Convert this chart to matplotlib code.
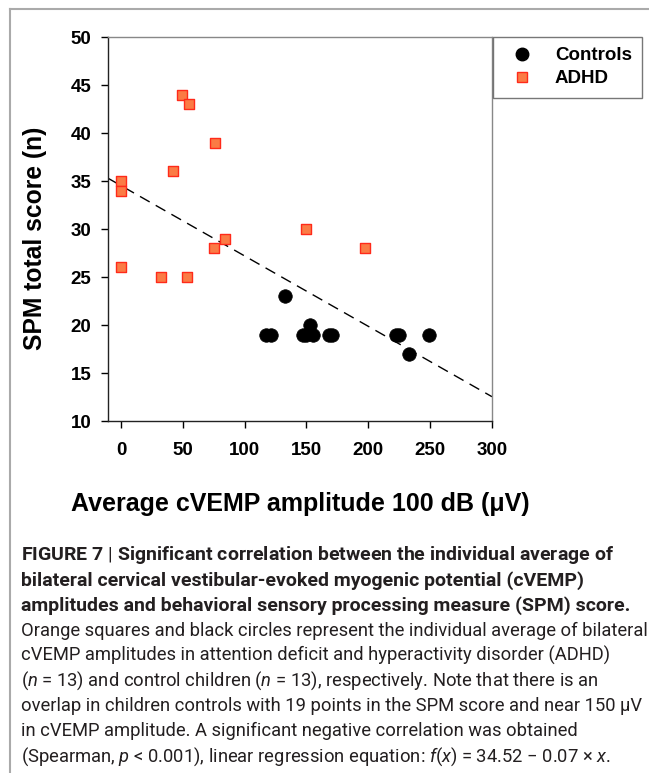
import matplotlib
matplotlib.use("Agg")
import matplotlib.pyplot as plt
from matplotlib.lines import Line2D
import numpy as np

# data
controls_x = [117, 121, 133, 147, 150, 153, 155, 168, 171, 222, 225, 233, 249]
controls_y = [19, 19, 23, 19, 19, 20, 19, 19, 19, 19, 19, 17, 19]
adhd_x = [0, 0, 0, 32, 42, 49, 53, 55, 75, 76, 84, 150, 197]
adhd_y = [35, 34, 26, 25, 36, 44, 25, 43, 28, 39, 29, 30, 28]

# regression line f(x) = 34.52 - 0.07 x (slope as drawn)
fit_a = 34.52
fit_b = -0.0733
fit_range = [-10, 300]

xticks = [0, 50, 100, 150, 200, 250, 300]
yticks = [10, 15, 20, 25, 30, 35, 40, 45, 50]

caption = [
    ("FIGURE 7 $\\mathrm{|}$ Significant correlation between the individual average of", "bold"),
    ("bilateral cervical vestibular-evoked myogenic potential (cVEMP)", "bold"),
    ("amplitudes and behavioral sensory processing measure (SPM) score.", "bold"),
    ("Orange squares and black circles represent the individual average of bilateral", "normal"),
    ("cVEMP amplitudes in attention deficit and hyperactivity disorder (ADHD)", "normal"),
    ("($\\mathit{n}$ = 13) and control children ($\\mathit{n}$ = 13), respectively. Note that there is an", "normal"),
    ("overlap in children controls with 19 points in the SPM score and near 150 \u03bcV", "normal"),
    ("in cVEMP amplitude. A significant negative correlation was obtained", "normal"),
    ("(Spearman, $\\mathit{p}$ < 0.001), linear regression equation: $\\mathit{f}$($\\mathit{x}$) = 34.52 \u2212 0.07 \u00d7 $\\mathit{x}$.", "normal"),
]

plt.rcParams['font.family'] = ['Liberation Sans', 'DejaVu Sans']
plt.rcParams['mathtext.fontset'] = 'custom'
plt.rcParams['mathtext.rm'] = 'Roboto'
plt.rcParams['mathtext.it'] = 'Roboto:italic'

W, H = 649, 773
fig = plt.figure(figsize=(W / 100, H / 100), dpi=100)
ax = fig.add_axes([108 / W, 1 - 421 / H, 384 / W, 384 / H])

orange = '#fb7b45'
red_edge = '#ff2a1a'

ax.scatter(adhd_x, adhd_y, marker='s', s=58, facecolor=orange, edgecolor=red_edge,
           linewidth=1.0, zorder=3)
ax.scatter(controls_x, controls_y, marker='o', s=95, facecolor='black', edgecolor='black',
           linewidth=0.5, zorder=4)

fx = np.array(fit_range, dtype=float)
ax.plot(fx, fit_a + fit_b * fx, color='black', lw=1.0, dashes=(8, 5), zorder=2)

ax.set_xlim(-10.5, 300)
ax.set_ylim(10, 50)
ax.set_xticks(xticks)
ax.set_yticks(yticks)
ax.tick_params(direction='out', length=5, width=1, labelsize=13.5)
ax.tick_params(axis='x', pad=10)
ax.tick_params(axis='y', pad=7)
for lab in ax.get_xticklabels() + ax.get_yticklabels():
    lab.set_fontweight('bold')
for s in ['left', 'bottom']:
    ax.spines[s].set_color('#222222')
    ax.spines[s].set_linewidth(1.0)
for s in ['top', 'right']:
    ax.spines[s].set_color('#888888')
    ax.spines[s].set_linewidth(1.0)

ax.set_xlabel('Average cVEMP amplitude 100 dB (\u03bcV)', fontsize=18, fontweight='bold')
ax.set_ylabel('SPM total score (n)', fontsize=17.7, fontweight='bold')
ax.xaxis.set_label_coords(0.5, -0.185)
ax.yaxis.set_label_coords(-0.158, 0.475)

handles = [
    Line2D([], [], marker='o', ls='none', markersize=9, color='black', label='Controls'),
    Line2D([], [], marker='s', ls='none', markersize=7, markerfacecolor=orange,
           markeredgecolor=red_edge, markeredgewidth=1.0, label='ADHD'),
]
leg = fig.legend(handles=handles, loc='upper left', bbox_to_anchor=(493 / W, 1 - 37 / H),
                 bbox_transform=fig.transFigure, borderaxespad=0, frameon=True, fancybox=False,
                 edgecolor='#555555', prop={'weight': 'bold', 'size': 13.5}, handletextpad=0.75,
                 handlelength=2.0, borderpad=0.55, labelspacing=0.3)
leg.get_frame().set_linewidth(1.0)

# page border lines
fig.add_artist(Line2D([10 / W, 10 / W], [0, 1 - 9 / H], color='#aaaaaa', lw=1.5))
fig.add_artist(Line2D([10 / W, 1], [1 - 9 / H, 1 - 9 / H], color='#aaaaaa', lw=1.5))

y0 = 555
for i, (line, w) in enumerate(caption):
    fs = 14.0 if w == 'bold' else 13.2
    fig.text(21 / W, 1 - (y0 + i * 25.2) / H, line, fontsize=fs, fontweight=w,
             family=['Roboto', 'DejaVu Sans'], va='center', ha='left',
             color='#231f20')

fig.savefig('out.png', dpi=100)
